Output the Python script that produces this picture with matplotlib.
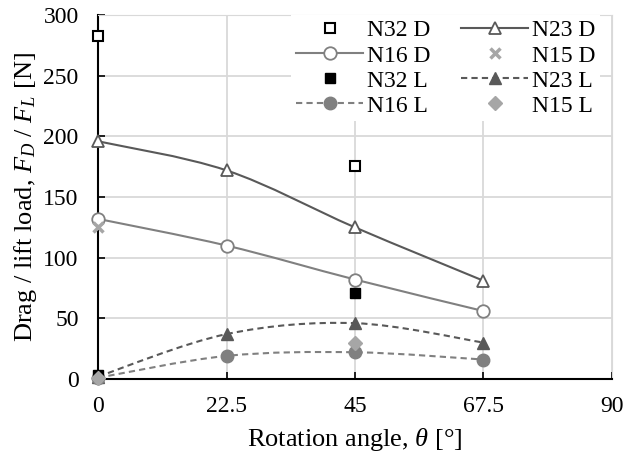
import numpy as np
import matplotlib
matplotlib.use('Agg')
import matplotlib.pyplot as plt
import matplotlib.lines as mlines
from matplotlib.path import Path
from matplotlib.patches import PathPatch

plt.rcParams['font.family'] = 'Liberation Serif'
plt.rcParams['mathtext.fontset'] = 'custom'
plt.rcParams['mathtext.rm'] = 'Liberation Serif'
plt.rcParams['mathtext.it'] = 'Liberation Serif:italic'

# data
ang_n32 = [0, 45]
n32_d = [283, 176]
n32_l = [3, 71]
ang_n23 = [0, 22.5, 45, 67.5]
n23_d = [196, 172, 125, 81]
n23_l = [2, 37, 46, 30]
ang_n16 = [0, 22.5, 45, 67.5]
n16_d = [132, 110, 82, 56]
n16_l = [1, 19, 22, 16]
ang_n15d = [0]
n15_d = [125]
ang_n15l = [0, 45]
n15_l = [1, 30]

c32 = 'black'
c23 = '#595959'
c16 = '#808080'
c15 = '#a6a6a6'
dash = (0, (3, 2))


def smooth_path(ax, x, y, color, ls):
    # Excel-like smoothed line: cubic bezier through the points
    x = np.asarray(x, float)
    y = np.asarray(y, float)
    verts = [(x[0], y[0])]
    codes = [Path.MOVETO]
    n = len(x)
    for i in range(n - 1):
        p0 = np.array([x[max(i - 1, 0)], y[max(i - 1, 0)]])
        p1 = np.array([x[i], y[i]])
        p2 = np.array([x[i + 1], y[i + 1]])
        p3 = np.array([x[min(i + 2, n - 1)], y[min(i + 2, n - 1)]])
        c1 = p1 + (p2 - p0) / 6
        c2 = p2 - (p3 - p1) / 6
        verts += [tuple(c1), tuple(c2), tuple(p2)]
        codes += [Path.CURVE4] * 3
    ax.add_patch(PathPatch(Path(verts, codes), fill=False, edgecolor=color,
                           lw=1.5, ls=ls, zorder=2))


fig, ax = plt.subplots(figsize=(6.25, 4.61), dpi=100)
fig.subplots_adjust(left=0.157, right=0.979, top=0.967, bottom=0.178)

smooth_path(ax, ang_n23, n23_d, c23, '-')
smooth_path(ax, ang_n16, n16_d, c16, '-')
smooth_path(ax, ang_n23, n23_l, c23, dash)
smooth_path(ax, ang_n16, n16_l, c16, dash)

ms = 9
h = {}
h['N32 D'] = ax.plot(ang_n32, n32_d, ls='none', marker='s', ms=7.5, mfc='white', mec=c32, mew=1.5, clip_on=False, zorder=5)[0]
h['N23 D'] = ax.plot(ang_n23, n23_d, ls='none', marker='^', ms=ms, mfc='white', mec=c23, mew=1.3, clip_on=False, zorder=4)[0]
h['N16 D'] = ax.plot(ang_n16, n16_d, ls='none', marker='o', ms=ms, mfc='white', mec=c16, mew=1.3, clip_on=False, zorder=4)[0]
h['N15 D'] = ax.plot(ang_n15d, n15_d, ls='none', marker='x', ms=7, mec=c15, mew=2.5, clip_on=False, zorder=5)[0]
h['N32 L'] = ax.plot(ang_n32, n32_l, ls='none', marker='s', ms=7.5, mfc=c32, mec=c32, clip_on=False, zorder=5)[0]
h['N23 L'] = ax.plot(ang_n23, n23_l, ls='none', marker='^', ms=ms, mfc=c23, mec=c23, clip_on=False, zorder=4)[0]
h['N16 L'] = ax.plot(ang_n16, n16_l, ls='none', marker='o', ms=ms, mfc=c16, mec=c16, clip_on=False, zorder=4)[0]
h['N15 L'] = ax.plot(ang_n15l, n15_l, ls='none', marker='D', ms=7, mfc=c15, mec=c15, clip_on=False, zorder=6)[0]

ax.set_xlim(0, 90)
ax.set_ylim(0, 300)
ax.set_xticks([0, 22.5, 45, 67.5, 90])
ax.set_xticklabels(['0', '22.5', '45', '67.5', '90'])
ax.set_yticks(range(0, 301, 50))
ax.tick_params(labelsize=17, length=5, width=1.2, colors='black', direction='in')
ax.tick_params(axis='x', pad=12)
ax.tick_params(axis='y', pad=14)
ax.grid(True, color='#d9d9d9', lw=1.3)
ax.set_axisbelow(True)
for s in ['top', 'right']:
    ax.spines[s].set_color('#d9d9d9')
for s in ['left', 'bottom']:
    ax.spines[s].set_linewidth(1.5)

ax.set_xlabel(r'Rotation angle, $\theta$ [°]', fontsize=19, labelpad=7)
ax.set_ylabel(r'Drag / lift load, $F_D$ / $F_L$ [N]', fontsize=19, labelpad=3)


def lh(k, ls):
    src = h[k]
    return mlines.Line2D([], [], color=src.get_markeredgecolor(), ls=ls, lw=1.5,
                         marker=src.get_marker(), ms=src.get_markersize(),
                         mfc=src.get_markerfacecolor(), mec=src.get_markeredgecolor(),
                         mew=src.get_markeredgewidth())


handles = [h['N32 D'], lh('N16 D', '-'), h['N32 L'], lh('N16 L', dash),
           lh('N23 D', '-'), h['N15 D'], lh('N23 L', dash), h['N15 L']]
labels = ['N32 D', 'N16 D', 'N32 L', 'N16 L', 'N23 D', 'N15 D', 'N23 L', 'N15 L']
ax.legend(handles, labels, ncol=2, loc='upper right', bbox_to_anchor=(0.977, 1.0),
          fontsize=17, frameon=True, fancybox=False, edgecolor='none', framealpha=1,
          handlelength=2.85, handletextpad=0.15, columnspacing=1.3,
          labelspacing=0.15, borderpad=0.2, borderaxespad=0)

fig.savefig('out.png', dpi=100)
